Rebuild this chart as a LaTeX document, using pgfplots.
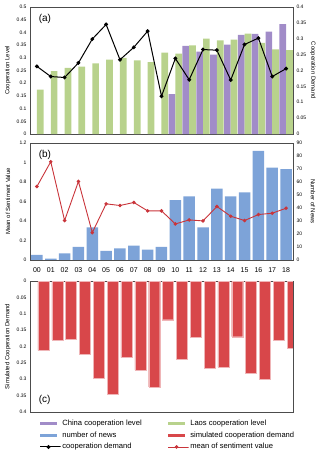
\documentclass[border=0pt]{standalone}
\usepackage{fontspec}
\setmainfont{Liberation Sans}
\usepackage{pgfplots}
\pgfplotsset{compat=1.18}
\definecolor{cnpurple}{HTML}{A18CC8}
\definecolor{laosgreen}{HTML}{B8D28C}
\definecolor{newsblue}{HTML}{7DA3D8}
\definecolor{simred}{HTML}{D8474A}
\definecolor{sentred}{HTML}{C9343A}

\pgfplotsset{
  base/.style={
    width=263pt, scale only axis,
    xmin=-0.5, xmax=18.5,
    axis line style={black!70, line width=0.6pt},
    tick style={draw=none},
    yticklabel style={font=\fontsize{5}{6}\selectfont,
      /pgf/number format/fixed, /pgf/number format/precision=2,
      /pgf/number format/assume math mode=true},
    ylabel style={font=\fontsize{6}{7}\selectfont},
  },
  leftlab/.style={ylabel style={at={(axis description cs:-0.084,0.5)}, anchor=center}},
  rightlab/.style={ylabel style={at={(axis description cs:1.076,0.5)}, anchor=center, rotate=180}},
  barleg/.style={legend image code/.code={\draw[##1, line width=3pt] (0pt,0pt) -- (17pt,0pt);}},
  lineleg/.style={legend image code/.code={\draw[##1] (0pt,0pt) -- (17pt,0pt); \draw[##1] plot coordinates {(8.5pt,0pt)};}},
}

\begin{document}
\begin{tikzpicture}
\useasboundingbox (0,0) rectangle (320pt,-459pt);

% ---------- panel (a)
\begin{axis}[base, leftlab, at={(30pt,-7pt)}, anchor=north west, height=127pt,
  ymin=0, ymax=0.5, ytick={0,0.05,...,0.5}, xtick=\empty,
  ybar=0pt, bar width=6.7pt,
  ylabel={Cooperation Level}]
\addplot[fill=cnpurple, draw=none] coordinates {
  (10,0.157) (11,0.347) (12,0.324) (13,0.313) (14,0.352) (15,0.390) (16,0.394) (17,0.403) (18,0.433)};
\addplot[fill=laosgreen, draw=none] coordinates {
  (0,0.175) (1,0.248) (2,0.260) (3,0.265) (4,0.278) (5,0.293) (6,0.300) (7,0.290) (8,0.283) (9,0.320)
  (10,0.316) (11,0.349) (12,0.376) (13,0.369) (14,0.372) (15,0.395) (16,0.359) (17,0.333) (18,0.330)};
\node[anchor=north west, font=\fontsize{10}{12}\selectfont] at (rel axis cs:0.02,0.97) {(a)};
\end{axis}
\begin{axis}[base, rightlab, at={(30pt,-7pt)}, anchor=north west, height=127pt,
  axis y line*=right, axis x line=none,
  ymin=0, ymax=0.4, ytick={0,0.05,...,0.4},
  ylabel={Cooperation Demand}]
\addplot[black, line width=1pt, mark=*, mark size=1.4pt] coordinates {
  (0,0.213) (1,0.181) (2,0.178) (3,0.224) (4,0.299) (5,0.345) (6,0.234) (7,0.273) (8,0.324) (9,0.119)
  (10,0.238) (11,0.171) (12,0.266) (13,0.264) (14,0.170) (15,0.282) (16,0.302) (17,0.181) (18,0.206)};
\end{axis}

% ---------- panel (b)
\begin{axis}[base, rightlab, at={(30pt,-143pt)}, anchor=north west, height=117pt,
  ymin=0, ymax=90, ytick={0,10,...,90}, ytick pos=right,
  xtick={0,...,18},
  xticklabels={00,01,02,03,04,05,06,07,08,09,10,11,12,13,14,15,16,17,18},
  xticklabel style={font=\fontsize{7}{8}\selectfont},
  ybar, bar width=11.5pt,
  ylabel={Number of News}]
\addplot[fill=newsblue, draw=none] coordinates {
  (0,4) (1,1) (2,5) (3,10) (4,25) (5,7) (6,9) (7,11) (8,8) (9,10)
  (10,46) (11,49) (12,25) (13,55) (14,49) (15,52) (16,84) (17,71) (18,70)};
\end{axis}
\begin{axis}[base, leftlab, at={(30pt,-143pt)}, anchor=north west, height=117pt,
  axis y line*=left, axis x line=none,
  ymin=0, ymax=1.2, ytick={0,0.2,...,1.2},
  ylabel={Mean of Sentiment Value}]
\addplot[sentred, line width=0.9pt, mark=*, mark size=1.3pt] coordinates {
  (0,0.754) (1,1.008) (2,0.405) (3,0.806) (4,0.281) (5,0.576) (6,0.559) (7,0.590) (8,0.504) (9,0.504)
  (10,0.370) (11,0.411) (12,0.401) (13,0.549) (14,0.449) (15,0.405) (16,0.466) (17,0.480) (18,0.531)};
\node[anchor=north west, font=\fontsize{10}{12}\selectfont] at (rel axis cs:0.02,0.97) {(b)};
\end{axis}

% ---------- panel (c)
\begin{axis}[base, leftlab, at={(30pt,-281pt)}, anchor=north west, height=131pt,
  y dir=reverse, ymin=0, ymax=0.4, ytick={0,0.05,...,0.4}, ytick pos=left, xtick=\empty,
  ybar, bar width=11pt,
  ylabel={Simulated Cooperation Demand},
  legend columns=2,
  legend cell align=left,
  legend style={at={(axis description cs:0.52,-0.04)}, anchor=north, draw=none,
    font=\fontsize{7.6}{9}\selectfont, row sep=3pt,
    nodes={inner sep=0.8pt},
    /tikz/every odd column/.append style={column sep=0.5pt},
    /tikz/column 2/.style={column sep=24pt}},
]
\addlegendimage{barleg, cnpurple}
\addlegendentry{China cooperation level}
\addlegendimage{barleg, laosgreen}
\addlegendentry{Laos cooperation level}
\addlegendimage{barleg, newsblue}
\addlegendentry{number of news}
\addlegendimage{barleg, simred}
\addlegendentry{simulated cooperation demand}
\addlegendimage{lineleg, black, line width=1pt, mark=*, mark size=1.4pt}
\addlegendentry{cooperation demand}
\addlegendimage{lineleg, sentred, line width=0.9pt, mark=*, mark size=1.3pt}
\addlegendentry{mean of sentiment value}
\addplot[fill=simred, draw=simred!40, line width=0.3pt, forget plot] coordinates {
  (0,0.212) (1,0.180) (2,0.177) (3,0.224) (4,0.298) (5,0.345) (6,0.234) (7,0.272) (8,0.323) (9,0.118)
  (10,0.238) (11,0.172) (12,0.265) (13,0.263) (14,0.170) (15,0.281) (16,0.301) (17,0.180) (18,0.205)};
\node[anchor=south west, font=\fontsize{10}{12}\selectfont] at (rel axis cs:0.02,0.03) {(c)};
\end{axis}
\end{tikzpicture}
\end{document}
